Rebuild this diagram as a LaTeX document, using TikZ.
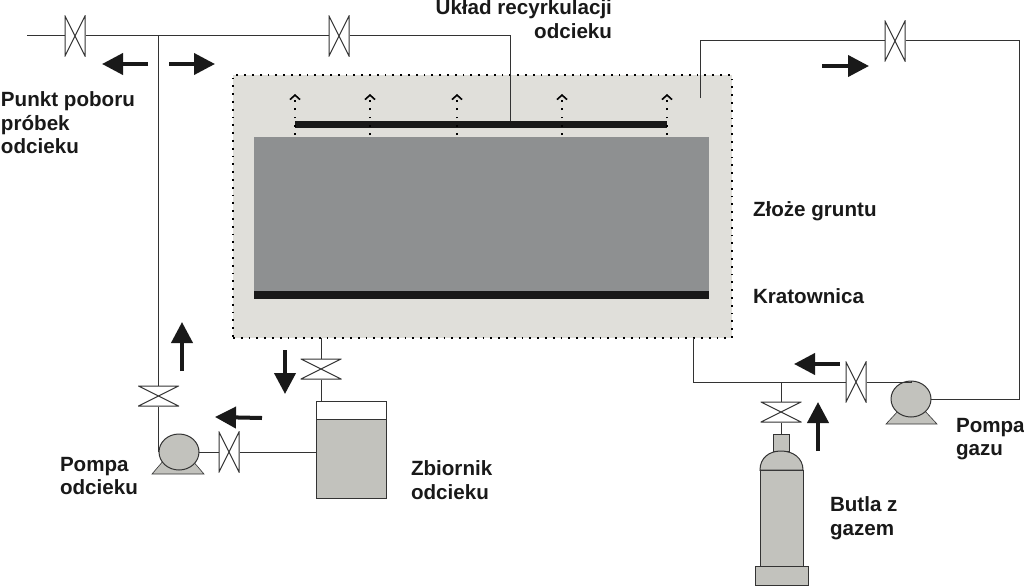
\documentclass[tikz,border=0pt]{standalone}
\usepackage{fontspec}
\setmainfont{Liberation Sans}
\usetikzlibrary{arrows.meta}
\usetikzlibrary{shapes.geometric}
\definecolor{boxgray}{HTML}{E0DFDA}
\definecolor{bedgray}{HTML}{8E9091}
\definecolor{partgray}{HTML}{C2C2BD}
\definecolor{linegray}{HTML}{333333}
\tikzset{x=1pt, y=-1pt,
every node/.style={inner sep=0pt, outer sep=0pt},
pipe/.style={draw=linegray, line width=1pt},
part/.style={draw=linegray, line width=1pt, fill=partgray, minimum width=#1},
valvev/.style={minimum width=21pt, minimum height=41pt, path picture={
\draw[linegray, line width=1pt, fill=white] ([shift={(.5pt,.5pt)}]path picture bounding box.south west) -- ([shift={(-.5pt,-.5pt)}]path picture bounding box.north east) -- ([shift={(-.5pt,.5pt)}]path picture bounding box.south east) -- ([shift={(.5pt,-.5pt)}]path picture bounding box.north west) -- cycle;}},
valveh/.style={minimum width=41pt, minimum height=21pt, path picture={
\draw[linegray, line width=1pt, fill=white] ([shift={(.5pt,.5pt)}]path picture bounding box.south west) -- ([shift={(-.5pt,.5pt)}]path picture bounding box.south east) -- ([shift={(.5pt,-.5pt)}]path picture bounding box.north west) -- ([shift={(-.5pt,-.5pt)}]path picture bounding box.north east) -- cycle;}},
pump/.style={ellipse, draw=linegray, line width=1pt, fill=partgray, minimum width=40pt, minimum height=36pt},
pumpbase/.style={fill=partgray, draw=linegray, line width=.6pt},
flow/.style={line width=4pt, draw=black!90, -{Triangle[length=21pt, width=21pt]}},
vent/.style={draw=black, line width=1.6pt, dash pattern=on 1.8pt off 6.5pt, -{Straight Barb[length=4.5pt, width=10pt, line width=1.6pt]}},
lbl/.style={font=\bfseries\fontsize{20.6}{23.5}\selectfont, text=black!90, align=left, anchor=north west},
}
\begin{document}
\begin{tikzpicture}
\useasboundingbox (0,0) rectangle (1024,586);

% reactor
\node[draw=black, line width=1.8pt, dash pattern=on 1.8pt off 6pt, fill=boxgray, minimum width=499pt, minimum height=263pt] (box) at (482.5,206.5) {};
\node[fill=bedgray, minimum width=455pt, minimum height=158pt] (bed) at (481.5,216) {};
\node[fill=black!90, minimum width=455pt, minimum height=8pt] (grid) at (481.5,295) {};
\node[fill=black!90, minimum width=372pt, minimum height=7pt] (sprayer) at (481,124.5) {};
\foreach \x in {295,370,457,562,667}
{
	\coordinate (ventin\x) at (\x,135);
	\coordinate (ventout\x) at (\x,94);
	\draw[vent] (ventin\x) -- (ventout\x);
}

% valves
\node[valvev] (valvein) at (75,36) {};
\node[valvev] (valverec) at (339,36) {};
\node[valveh] (valvepump) at (158.5,396) {};
\node[valvev] (valvetank) at (229,452) {};
\node[valveh] (valveout) at (321,369) {};
\node[valvev] (valvegas) at (895,41) {};
\node[valvev] (valvereturn) at (856,382) {};
\node[valveh] (valvebottle) at (781,412) {};

% pumps
\path[pumpbase] (152,474) -- (204,474) -- (192,460) -- (164,460) -- cycle;
\path[pumpbase] (886,424) -- (937,424) -- (924,410) -- (899,410) -- cycle;
\node[pump] (pumpleach) at (179,452) {};
\node[pump] (pumpgas) at (911,399) {};

% tank
\node[draw=linegray, line width=1pt, fill=white, minimum width=70pt, minimum height=97pt] (tank) at (351,449.5) {};
\node[part=70pt, minimum height=79pt] (leachate) at (351,458.5) {};

% bottle
\node[part=43pt, minimum height=96pt] (bottle) at (781.5,518) {};
\node[part=53pt, minimum height=19pt] (bottlebase) at (781.5,575.5) {};
\node[part=16pt, minimum height=17pt] (bottleneck) at (781,442.5) {};
\draw[pipe, fill=partgray] (bottle.north west) .. controls +(0,-12) and +(-12,0) .. (bottleneck.south) .. controls +(12,0) and +(0,-12) .. (bottle.north east) -- cycle;

% pipes
\coordinate (inlet) at (27,36);
\coordinate (recycle) at (510,121);
\coordinate (gasin) at (700,98);
\coordinate (gasout) at (693,338);
\coordinate (corner) at (1019,41);
\draw[pipe] (inlet) -- (valvein.west);
\draw[pipe] (valvein.east) -- (valverec.west);
\draw[pipe] (valverec.east) -| (recycle);
\draw[pipe] (valvepump.north) -- (valvepump.north |- valvein.east);
\draw[pipe] (valvepump.south) -- (valvepump.south |- pumpleach.west);
\draw[pipe] (pumpleach.east) -- (valvetank.west);
\draw[pipe] (valvetank.east) -- (valvetank.east -| tank.west);
\draw[pipe] (valveout.north) -- (valveout.north |- box.south);
\draw[pipe] (valveout.south) -- (valveout.south |- tank.north);
\draw[pipe] (gasin) |- (valvegas.west);
\draw[pipe] (valvegas.east) -- (corner) |- (pumpgas.east);
\draw[pipe] (valvereturn.east) -| (pumpgas.north);
\draw[pipe] (gasout) |- (valvereturn.west);
\draw[pipe] (valvebottle.north) -- (valvebottle.north |- valvereturn.west);
\draw[pipe] (valvebottle.south) -- (bottleneck.north);

% flow direction
\foreach \name/\xa/\ya/\xb/\yb in {a/148/64/102/64, b/169/64/215/64, c/822/66/869/66, d/182/371/182/322, e/285/350/285/394, f/262/418/215/417, g/840/364/794/364, h/818/451/818/402}
{
	\coordinate (flow\name a) at (\xa,\ya);
	\coordinate (flow\name b) at (\xb,\yb);
	\draw[flow] (flow\name a) -- (flow\name b);
}

% labels
\node[lbl, align=right, anchor=north east] (lblrec) at (612,0) {Układ recyrkulacji\\odcieku};
\node[lbl] (lblpoint) at (1,92) {Punkt poboru\\próbek\\odcieku};
\node[lbl] (lblbed) at (753,202) {Złoże gruntu};
\node[lbl] (lblgrid) at (753,289) {Kratownica};
\node[lbl] (lblpumpleach) at (60,457) {Pompa\\odcieku};
\node[lbl] (lbltank) at (411,461) {Zbiornik\\odcieku};
\node[lbl] (lblbottle) at (830,497) {Butla z\\gazem};
\node[lbl] (lblpumpgas) at (956,418) {Pompa\\gazu};
\end{tikzpicture}
\end{document}
